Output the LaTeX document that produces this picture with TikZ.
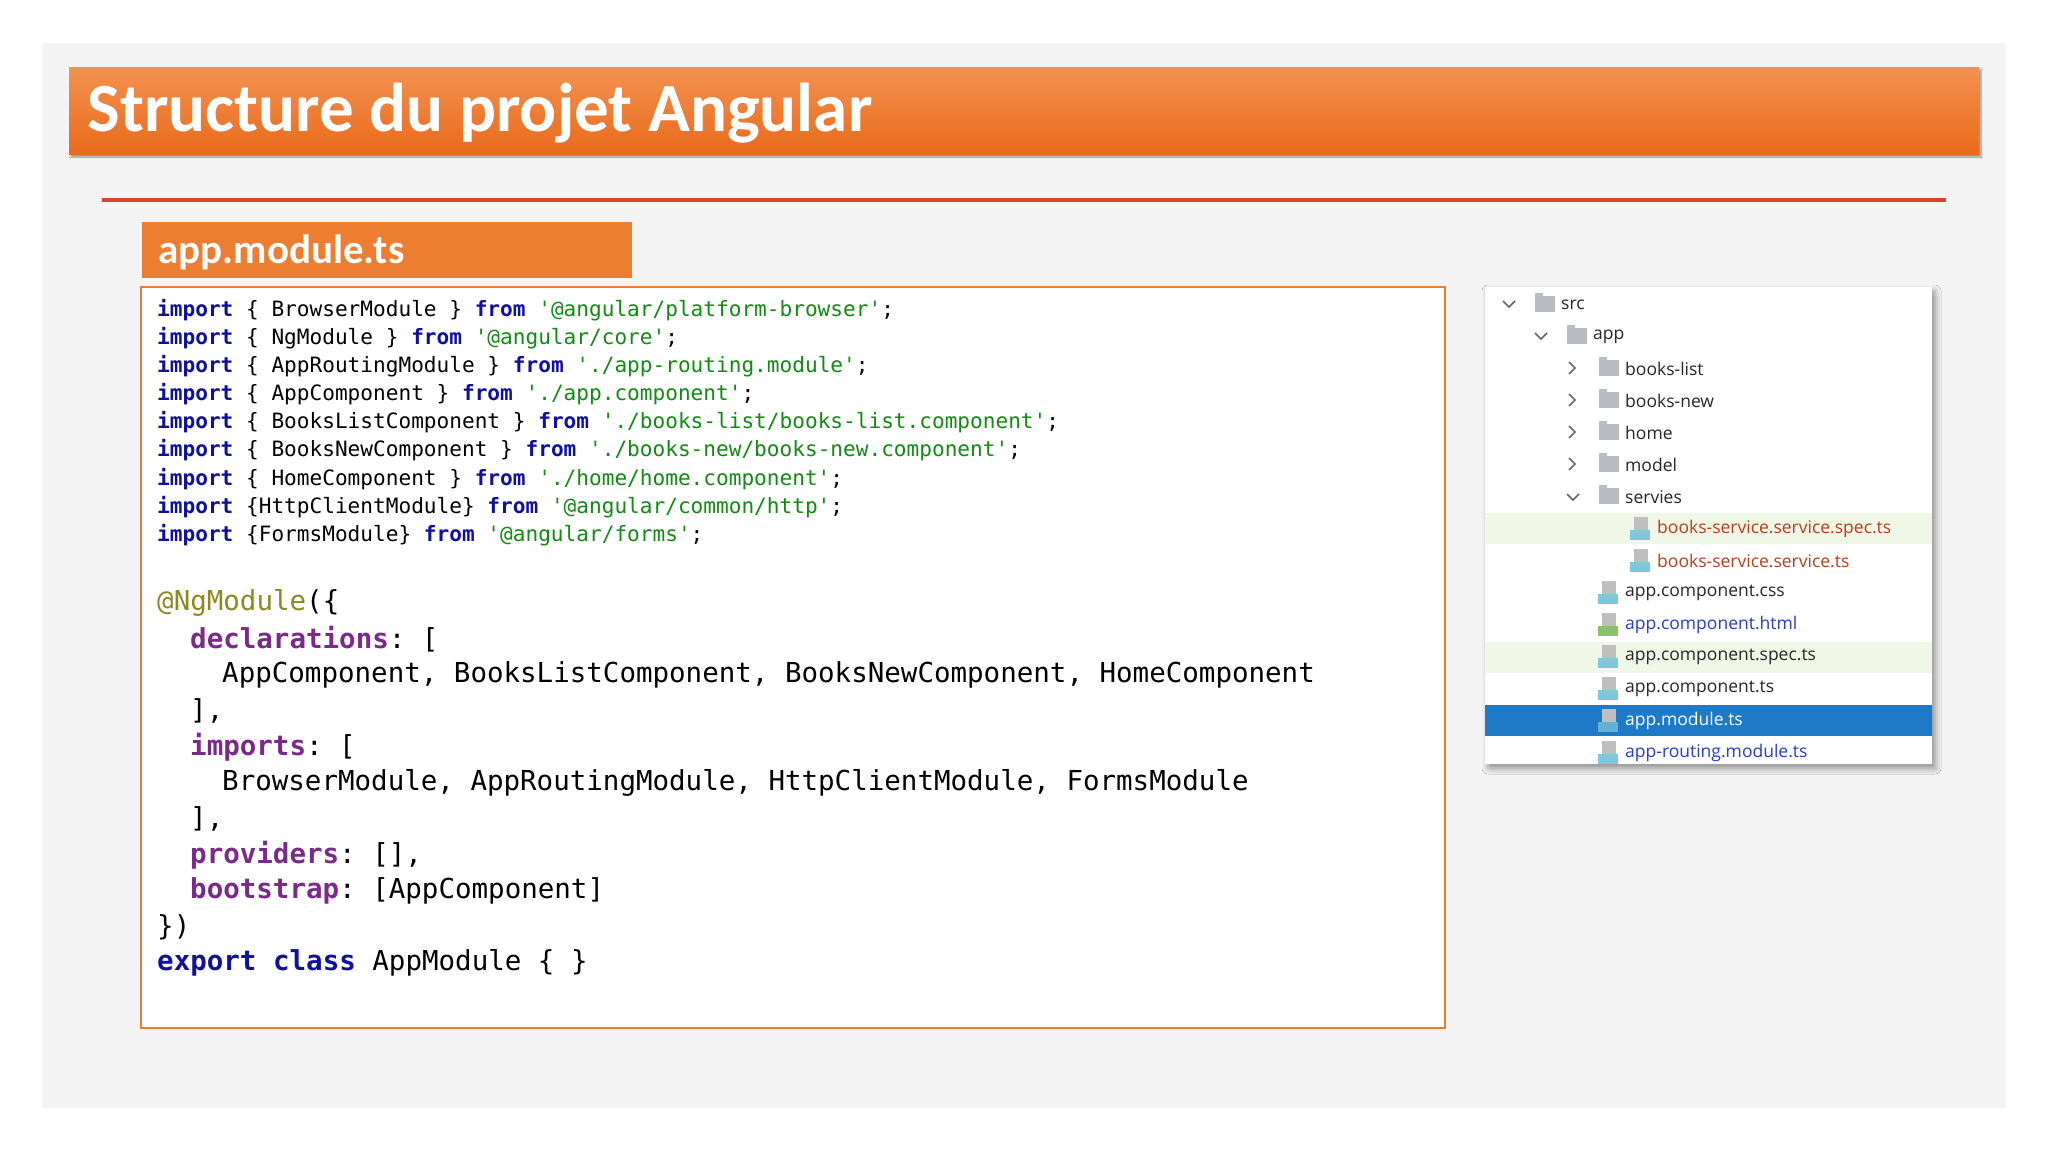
\documentclass[tikz,border=0pt]{standalone}
\usepackage{fontspec}
\setmainfont{Carlito}
\setmonofont{DejaVu Sans Mono}
\newfontfamily\treefont{Open Sans}
\usetikzlibrary{shadows.blur}
\definecolor{pageg}{HTML}{F4F4F4}
\definecolor{orA}{HTML}{F39250}
\definecolor{orB}{HTML}{E96A1C}
\definecolor{orBox}{HTML}{ED7D31}
\definecolor{redline}{HTML}{D9442A}
\definecolor{kwc}{HTML}{1010A0}
\definecolor{stc}{HTML}{138A13}
\definecolor{decc}{HTML}{8A8A20}
\definecolor{propc}{HTML}{7B2A8C}
\definecolor{selc}{HTML}{1E79C6}
\definecolor{greenband}{HTML}{F0F7E6}
\definecolor{svcc}{HTML}{B5401C}
\definecolor{linkc}{HTML}{2A3EBE}
\definecolor{iconc}{HTML}{B8BCC2}
\definecolor{tsc}{HTML}{7EC8DC}
\newcommand{\kw}[1]{\textcolor{kwc}{\bfseries #1}}
\newcommand{\stx}[1]{\textcolor{stc}{#1}}
\tikzset{
  codeA/.style={anchor=west,inner sep=0pt,font=\ttfamily\fontsize{21.1}{21}\selectfont},
  codeB/.style={anchor=west,inner sep=0pt,font=\ttfamily\fontsize{27.5}{27.5}\selectfont},
  tree/.style={anchor=west,inner sep=0pt,font=\treefont\fontsize{17.5}{17.5}\selectfont,text=black!85},
  chev/.style={draw=black!60,line width=1.6pt},
}
\newcommand{\fold}[2]{% x y
  \fill[iconc] (#1-9,#2-8) rectangle (#1+11,#2+8);
  \fill[iconc] (#1-9,#2-11) rectangle (#1-1,#2-7);}
\newcommand{\fileic}[3]{% x y color
  \fill[black!25] (#1-6,#2-12) rectangle (#1+8,#2+1);
  \fill[#3] (#1-10,#2+1) rectangle (#1+10,#2+11);}
\begin{document}
\begin{tikzpicture}[x=1pt,y=-1pt]
\useasboundingbox (0,0) rectangle (2048,1152);
\fill[white] (0,0) rectangle (2048,1152);
\fill[pageg] (42,43) rectangle (2006,1108);
% title bar
\shade[top color=orA,bottom color=orB,blur shadow={shadow xshift=2pt,shadow yshift=-3pt,shadow blur steps=6}] (69,67) rectangle (1979,154);
\node[anchor=west,text=white,font=\fontsize{69}{69}\selectfont\bfseries] (title) at (84,113) {Structure du projet Angular};
\draw[redline,line width=4pt] (102,200) -- (1946,200);
% label
\fill[orBox] (142,222) rectangle (632,278);
\node[anchor=west,text=white,font=\fontsize{41}{41}\selectfont\bfseries] (lbl) at (155,252) {app.module.ts};
% code box
\draw[orBox,fill=white,line width=2pt] (141,287) rectangle (1445,1028);
\node[codeA] (l1) at (157,310) {\kw{import} \{ BrowserModule \} \kw{from} \stx{'@angular/platform-browser'};};
\node[codeA] (l2) at (157,338) {\kw{import} \{ NgModule \} \kw{from} \stx{'@angular/core'};};
\node[codeA] (l3) at (157,366) {\kw{import} \{ AppRoutingModule \} \kw{from} \stx{'./app-routing.module'};};
\node[codeA] (l4) at (157,394) {\kw{import} \{ AppComponent \} \kw{from} \stx{'./app.component'};};
\node[codeA] (l5) at (157,422) {\kw{import} \{ BooksListComponent \} \kw{from} \stx{'./books-list/books-list.component'};};
\node[codeA] (l6) at (157,450) {\kw{import} \{ BooksNewComponent \} \kw{from} \stx{'./books-new/books-new.component'};};
\node[codeA] (l7) at (157,479) {\kw{import} \{ HomeComponent \} \kw{from} \stx{'./home/home.component'};};
\node[codeA] (l8) at (157,507) {\kw{import} \{HttpClientModule\} \kw{from} \stx{'@angular/common/http'};};
\node[codeA] (l9) at (157,535) {\kw{import} \{FormsModule\} \kw{from} \stx{'@angular/forms'};};
\node[codeB] (m1) at (157,603) {\textcolor{decc}{@NgModule}(\{};
\node[codeB] (m2) at (190,639) {\textcolor{propc}{\bfseries declarations}: [};
\node[codeB] (m3) at (222,675) {AppComponent, BooksListComponent, BooksNewComponent, HomeComponent};
\node[codeB] (m4) at (190,711) {],};
\node[codeB] (m5) at (190,747) {\textcolor{propc}{\bfseries imports}: [};
\node[codeB] (m6) at (222,783) {BrowserModule, AppRoutingModule, HttpClientModule, FormsModule};
\node[codeB] (m7) at (190,819) {],};
\node[codeB] (m8) at (190,855) {\textcolor{propc}{\bfseries providers}: [],};
\node[codeB] (m9) at (190,891) {\textcolor{propc}{\bfseries bootstrap}: [AppComponent]};
\node[codeB] (m10) at (157,927) {\})};
\node[codeB] (m11) at (157,963) {\kw{export} \kw{class} AppModule \{ \}};
% tree panel
\fill[black!8] (1491,296) rectangle (1940,774);
\fill[white,blur shadow={shadow xshift=3pt,shadow yshift=-4pt,shadow blur radius=6pt}] (1485,287) rectangle (1932,764);
\fill[greenband] (1485,513) rectangle (1932,544);
\fill[greenband] (1485,642) rectangle (1932,673);
\fill[selc] (1485,705) rectangle (1932,736);
% chevrons
\draw[chev] (1503,301) -- (1509,307) -- (1515,301);
\draw[chev] (1535,333) -- (1541,339) -- (1547,333);
\foreach \yy in {368,400,432,464} \draw[chev] (1569,\yy-6) -- (1575,\yy) -- (1569,\yy+6);
\draw[chev] (1567,494) -- (1573,500) -- (1579,494);
% folders
\fold{1544}{304}
\fold{1576}{336}
\foreach \yy in {368,400,432,464,496} {\fold{1608}{\yy}}
% file icons
\fileic{1640}{529}{tsc}
\fileic{1640}{561}{tsc}
\fileic{1608}{593}{tsc}
\fileic{1608}{625}{green!45!lime!60!black!60}
\fileic{1608}{657}{tsc}
\fileic{1608}{689}{tsc}
\fileic{1608}{721}{tsc!70!selc}
\fileic{1608}{753}{tsc}
\node[tree] (t1) at (1561,305) {src};
\node[tree] (t2) at (1593,337) {app};
\node[tree] (t3) at (1625,369) {books-list};
\node[tree] (t4) at (1625,401) {books-new};
\node[tree] (t5) at (1625,433) {home};
\node[tree] (t6) at (1625,465) {model};
\node[tree] (t7) at (1625,497) {servies};
\node[tree,text=svcc] (t8) at (1657,529) {books-service.service.spec.ts};
\node[tree,text=svcc] (t9) at (1657,561) {books-service.service.ts};
\node[tree] (t10) at (1625,593) {app.component.css};
\node[tree,text=linkc] (t11) at (1625,625) {app.component.html};
\node[tree] (t12) at (1625,657) {app.component.spec.ts};
\node[tree] (t13) at (1625,689) {app.component.ts};
\node[tree,text=white] (t14) at (1625,721) {app.module.ts};
\node[tree,text=linkc] (t15) at (1625,753) {app-routing.module.ts};
\end{tikzpicture}
\end{document}
